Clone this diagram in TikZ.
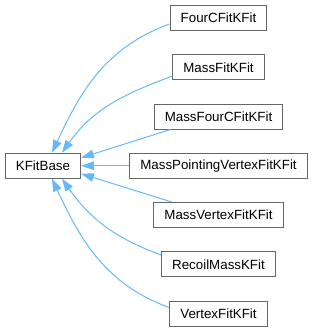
\documentclass[tikz,border=0pt]{standalone}
\usepackage{fontspec}
\setmainfont{Liberation Sans}
\usetikzlibrary{arrows.meta}
\definecolor{edgeblue}{HTML}{63B8FF}
\definecolor{boxgray}{HTML}{666666}
\tikzset{
  cls/.style={draw=boxgray, fill=white, line width=0.75pt, minimum height=18.75pt,
    inner xsep=8pt, font=\fontsize{10}{12}\selectfont},
  inherit/.style={draw=edgeblue, line width=0.75pt, -{Triangle[length=9.5pt,width=6.5pt]}}
}
\begin{document}
\begin{tikzpicture}[x=0.75pt,y=-0.75pt]
  \def\col{218.5}
  \def\gap{49.25}
  \useasboundingbox (0,0) rectangle (313,332);

  \node[cls] (base) at (43,165.75) {KFitBase};
  \foreach \name [count=\i] in {FourCFitKFit,MassFitKFit,MassFourCFitKFit,MassPointingVertexFitKFit,MassVertexFitKFit,RecoilMassKFit,VertexFitKFit} {
    \node[cls] (\name) at (\col,{18+\gap*(\i-1)}) {\name};
  }

  \draw[inherit] ([yshift=-4.5pt]FourCFitKFit.west) to[out=200,in=65] ([xshift=6.75pt]base.north);
  \draw[inherit] ([yshift=-6.75pt]MassFitKFit.west) to[out=200,in=55] ([xshift=14.25pt]base.north);
  \draw[inherit] ([xshift=-36pt]MassFourCFitKFit.south) -- ([yshift=6pt]base.east);
  \draw[inherit] (MassPointingVertexFitKFit.west) -- (base.east);
  \draw[inherit] ([xshift=-35pt]MassVertexFitKFit.north) -- ([yshift=-6pt]base.east);
  \draw[inherit] ([yshift=7pt]RecoilMassKFit.west) to[out=160,in=-55] ([xshift=14.25pt]base.south);
  \draw[inherit] ([yshift=4.5pt]VertexFitKFit.west) to[out=160,in=-65] ([xshift=6.75pt]base.south);
\end{tikzpicture}
\end{document}
